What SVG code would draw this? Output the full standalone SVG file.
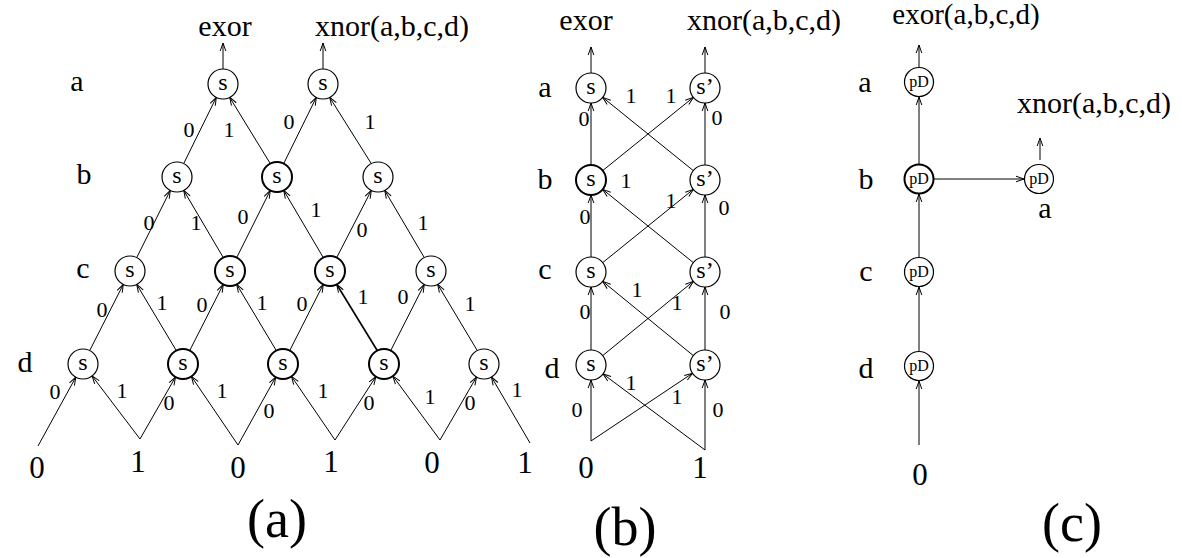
<svg xmlns="http://www.w3.org/2000/svg" width="1182" height="558" viewBox="0 0 1182 558">
<style>
text{font-family:"Liberation Serif","Times New Roman",serif;fill:#000;text-anchor:middle}
.top{font-size:30px}
.row{font-size:30px}
.inp{font-size:31px}
.el{font-size:22px}
.nt{font-size:24px}
.pd{font-size:16px}
.big{font-size:54px}
circle{fill:#fff;stroke:#000;stroke-width:1.2}
circle.b{stroke-width:2}
.e line{stroke:#000;stroke-width:1;fill:none;marker-end:url(#ah)}
.e line.b{stroke-width:1.8}
</style>
<defs>
<marker id="ah" viewBox="-10 -5 11 10" refX="0" refY="0" markerWidth="11" markerHeight="10" orient="auto" markerUnits="userSpaceOnUse">
<path d="M-8,-2.8 L0,0 L-8,2.8" fill="none" stroke="#000" stroke-width="1"/>
</marker>
</defs>
<rect width="1182" height="558" fill="#fff"/>

<!-- ===== (a) connectors ===== -->
<g id="connectors-a" class="e">
<line x1="223" y1="69" x2="223" y2="43"/>
<line x1="323" y1="69" x2="323" y2="43"/>
<line x1="183.7" y1="163.6" x2="216.3" y2="97.4"/>
<line x1="270.3" y1="163.6" x2="229.7" y2="97.4"/>
<line x1="283.7" y1="163.6" x2="316.3" y2="97.4"/>
<line x1="371.3" y1="163.6" x2="329.7" y2="97.4"/>
<line x1="136.7" y1="257.6" x2="170.3" y2="190.4"/>
<line x1="223.3" y1="257.6" x2="183.7" y2="190.4"/>
<line x1="236.7" y1="257.6" x2="270.3" y2="190.4"/>
<line x1="323.3" y1="257.6" x2="283.7" y2="190.4"/>
<line x1="336.7" y1="257.6" x2="371.3" y2="190.4"/>
<line x1="424.3" y1="257.6" x2="384.7" y2="190.4"/>
<line x1="89.7" y1="350.6" x2="123.3" y2="284.4"/>
<line x1="176.3" y1="350.6" x2="136.7" y2="284.4"/>
<line x1="189.7" y1="350.6" x2="223.3" y2="284.4"/>
<line x1="276.3" y1="350.6" x2="236.7" y2="284.4"/>
<line x1="289.7" y1="350.6" x2="323.3" y2="284.4"/>
<line class="b" x1="377.3" y1="350.6" x2="336.7" y2="284.4"/>
<line x1="390.7" y1="350.6" x2="424.3" y2="284.4"/>
<line x1="477.3" y1="350.6" x2="437.7" y2="284.4"/>
<line x1="38" y1="446" x2="75.8" y2="377.2"/>
<line x1="140" y1="439" x2="92.1" y2="375.9"/>
<line x1="140" y1="439" x2="175.5" y2="377"/>
<line x1="238" y1="445" x2="191.4" y2="376.4"/>
<line x1="238" y1="445" x2="275.7" y2="377.1"/>
<line x1="335" y1="440" x2="291.5" y2="376.4"/>
<line x1="335" y1="440" x2="375.9" y2="376.6"/>
<line x1="440" y1="440" x2="392.9" y2="376.1"/>
<line x1="440" y1="440" x2="476.5" y2="377"/>
<line x1="530" y1="443" x2="491.5" y2="377"/>
</g>

<!-- ===== (b) connectors ===== -->
<g id="connectors-b" class="e">
<line x1="591" y1="73" x2="591" y2="47"/>
<line x1="705" y1="73" x2="705" y2="47"/>
<line x1="591" y1="165" x2="591" y2="103"/>
<line x1="705" y1="165" x2="705" y2="103"/>
<line x1="602.7" y1="170.6" x2="693.3" y2="97.4"/>
<line x1="693.3" y1="170.6" x2="602.7" y2="97.4"/>
<line x1="591" y1="257" x2="591" y2="195"/>
<line x1="705" y1="257" x2="705" y2="195"/>
<line x1="602.7" y1="262.6" x2="693.3" y2="189.4"/>
<line x1="693.3" y1="262.6" x2="602.7" y2="189.4"/>
<line x1="591" y1="350" x2="591" y2="287"/>
<line x1="705" y1="350" x2="705" y2="287"/>
<line x1="602.7" y1="355.6" x2="693.3" y2="281.4"/>
<line x1="693.3" y1="355.6" x2="602.7" y2="281.4"/>
<line x1="591" y1="441" x2="591" y2="380"/>
<line x1="591" y1="441" x2="692.5" y2="373.3"/>
<line x1="705" y1="450" x2="705" y2="380"/>
<line x1="705" y1="450" x2="603" y2="374"/>
</g>

<!-- ===== (c) connectors ===== -->
<g id="connectors-c" class="e">
<line x1="919" y1="67" x2="919" y2="45"/>
<line x1="919" y1="164" x2="919" y2="97"/>
<line x1="919" y1="257" x2="919" y2="194"/>
<line x1="919" y1="351" x2="919" y2="287"/>
<line x1="919" y1="445" x2="919" y2="381"/>
<line x1="934" y1="179" x2="1024" y2="179"/>
<line x1="1040" y1="160" x2="1040" y2="138"/>
</g>

<!-- ===== (a) nodes ===== -->
<g id="a-A1"><circle cx="223" cy="84" r="15"/><text class="nt" x="223" y="90">s</text></g>
<g id="a-A2"><circle cx="323" cy="84" r="15"/><text class="nt" x="323" y="90">s</text></g>
<g id="a-B1"><circle cx="177" cy="177" r="15"/><text class="nt" x="177" y="183">s</text></g>
<g id="a-B2"><circle class="b" cx="277" cy="177" r="15"/><text class="nt" x="277" y="183">s</text></g>
<g id="a-B3"><circle cx="378" cy="177" r="15"/><text class="nt" x="378" y="183">s</text></g>
<g id="a-C1"><circle cx="130" cy="271" r="15"/><text class="nt" x="130" y="277">s</text></g>
<g id="a-C2"><circle class="b" cx="230" cy="271" r="15"/><text class="nt" x="230" y="277">s</text></g>
<g id="a-C3"><circle class="b" cx="330" cy="271" r="15"/><text class="nt" x="330" y="277">s</text></g>
<g id="a-C4"><circle cx="431" cy="271" r="15"/><text class="nt" x="431" y="277">s</text></g>
<g id="a-D1"><circle cx="83" cy="364" r="15"/><text class="nt" x="83" y="370">s</text></g>
<g id="a-D2"><circle class="b" cx="183" cy="364" r="15"/><text class="nt" x="183" y="370">s</text></g>
<g id="a-D3"><circle class="b" cx="283" cy="364" r="15"/><text class="nt" x="283" y="370">s</text></g>
<g id="a-D4"><circle class="b" cx="384" cy="364" r="15"/><text class="nt" x="384" y="370">s</text></g>
<g id="a-D5"><circle cx="484" cy="364" r="15"/><text class="nt" x="484" y="370">s</text></g>

<!-- ===== (b) nodes ===== -->
<g id="b-La"><circle cx="591" cy="88" r="15"/><text class="nt" x="591" y="94">s</text></g>
<g id="b-Ra"><circle cx="705" cy="88" r="15"/><text class="nt" x="705" y="94">s’</text></g>
<g id="b-Lb"><circle class="b" cx="591" cy="180" r="15"/><text class="nt" x="591" y="186">s</text></g>
<g id="b-Rb"><circle cx="705" cy="180" r="15"/><text class="nt" x="705" y="186">s’</text></g>
<g id="b-Lc"><circle cx="591" cy="272" r="15"/><text class="nt" x="591" y="278">s</text></g>
<g id="b-Rc"><circle cx="705" cy="272" r="15"/><text class="nt" x="705" y="278">s’</text></g>
<g id="b-Ld"><circle cx="591" cy="365" r="15"/><text class="nt" x="591" y="371">s</text></g>
<g id="b-Rd"><circle cx="705" cy="365" r="15"/><text class="nt" x="705" y="371">s’</text></g>

<!-- ===== (c) nodes ===== -->
<g id="c-a"><circle cx="919" cy="82" r="14.5"/><text class="pd" x="919" y="87">pD</text></g>
<g id="c-b"><circle class="b" cx="919" cy="179" r="14.5"/><text class="pd" x="919" y="184">pD</text></g>
<g id="c-c"><circle cx="919" cy="272" r="14.5"/><text class="pd" x="919" y="277">pD</text></g>
<g id="c-d"><circle cx="919" cy="366" r="14.5"/><text class="pd" x="919" y="371">pD</text></g>
<g id="c-r"><circle cx="1039" cy="179" r="14.5"/><text class="pd" x="1039" y="184">pD</text></g>

<!-- ===== texts (a) ===== -->
<g id="labels-a">
<text class="top" x="225" y="36">exor</text>
<text class="top" x="392" y="36">xnor(a,b,c,d)</text>
<text class="row" x="77" y="91">a</text>
<text class="row" x="84" y="184">b</text>
<text class="row" x="83" y="278">c</text>
<text class="row" x="25" y="372">d</text>
<text class="el" x="189" y="137">0</text>
<text class="el" x="229" y="137">1</text>
<text class="el" x="289" y="129">0</text>
<text class="el" x="370" y="129">1</text>
<text class="el" x="149" y="230">0</text>
<text class="el" x="196" y="230">1</text>
<text class="el" x="243" y="224">0</text>
<text class="el" x="316" y="217">1</text>
<text class="el" x="362" y="237">0</text>
<text class="el" x="423" y="230">1</text>
<text class="el" x="102" y="317">0</text>
<text class="el" x="162" y="310">1</text>
<text class="el" x="202" y="312">0</text>
<text class="el" x="262" y="310">1</text>
<text class="el" x="302" y="311">0</text>
<text class="el" x="363" y="304">1</text>
<text class="el" x="403" y="304">0</text>
<text class="el" x="470" y="311">1</text>
<text class="el" x="55" y="399">0</text>
<text class="el" x="122" y="398">1</text>
<text class="el" x="169" y="410">0</text>
<text class="el" x="222" y="398">1</text>
<text class="el" x="269" y="418">0</text>
<text class="el" x="323" y="398">1</text>
<text class="el" x="369" y="410">0</text>
<text class="el" x="430" y="404">1</text>
<text class="el" x="470" y="410">0</text>
<text class="el" x="517" y="397">1</text>
<text class="inp" x="37" y="478">0</text>
<text class="inp" x="138" y="472">1</text>
<text class="inp" x="238" y="478">0</text>
<text class="inp" x="331" y="472">1</text>
<text class="inp" x="432" y="473">0</text>
<text class="inp" x="525" y="473">1</text>
<text class="big" x="277" y="537">(a)</text>
</g>

<!-- ===== texts (b) ===== -->
<g id="labels-b">
<text class="top" x="586" y="30">exor</text>
<text class="top" x="764" y="30">xnor(a,b,c,d)</text>
<text class="row" x="545" y="97">a</text>
<text class="row" x="545" y="189">b</text>
<text class="row" x="545" y="279">c</text>
<text class="row" x="552" y="378">d</text>
<text class="el" x="584" y="126">0</text>
<text class="el" x="631" y="103">1</text>
<text class="el" x="671" y="103">1</text>
<text class="el" x="717" y="125">0</text>
<text class="el" x="585" y="224">0</text>
<text class="el" x="626" y="188">1</text>
<text class="el" x="671" y="208">1</text>
<text class="el" x="724" y="215">0</text>
<text class="el" x="585" y="319">0</text>
<text class="el" x="637" y="297">1</text>
<text class="el" x="677" y="310">1</text>
<text class="el" x="725" y="319">0</text>
<text class="el" x="577" y="417">0</text>
<text class="el" x="631" y="390">1</text>
<text class="el" x="677" y="404">1</text>
<text class="el" x="718" y="417">0</text>
<text class="inp" x="586" y="478">0</text>
<text class="inp" x="700" y="478">1</text>
<text class="big" x="625" y="545">(b)</text>
</g>

<!-- ===== texts (c) ===== -->
<g id="labels-c">
<text class="top" x="966" y="24" style="font-size:29px">exor(a,b,c,d)</text>
<text class="top" x="1094" y="113">xnor(a,b,c,d)</text>
<text class="row" x="865" y="92">a</text>
<text class="row" x="866" y="189">b</text>
<text class="row" x="866" y="281">c</text>
<text class="row" x="866" y="378">d</text>
<text class="row" x="1045" y="218">a</text>
<text class="inp" x="920" y="485">0</text>
<text class="big" x="1072" y="541">(c)</text>
</g>
</svg>
